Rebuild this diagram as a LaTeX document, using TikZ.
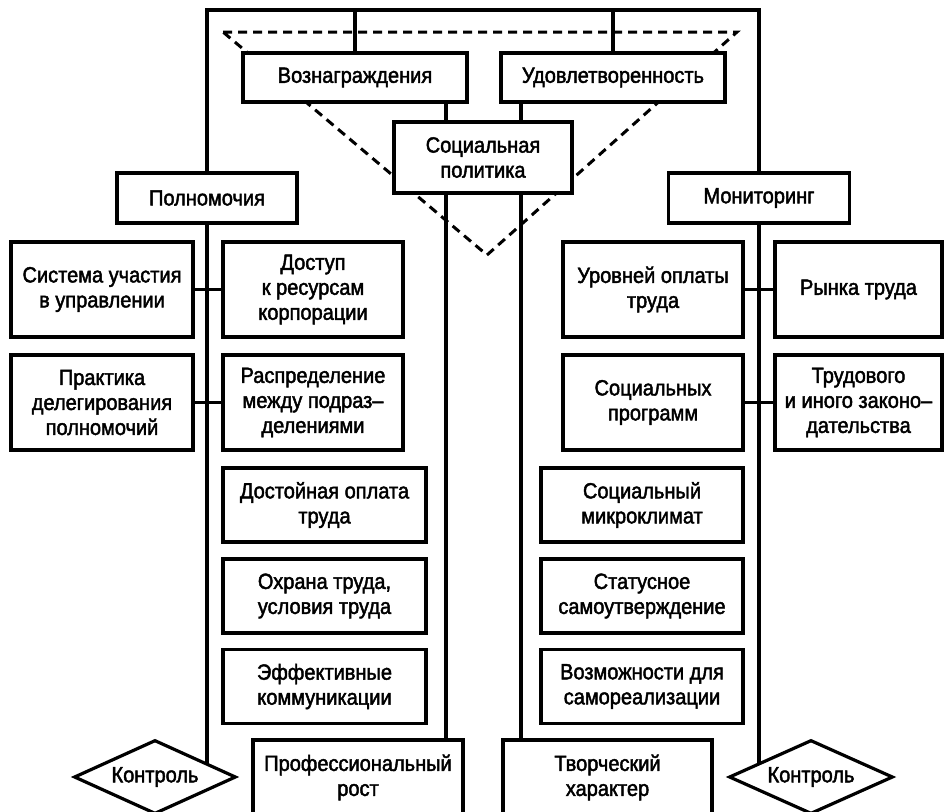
\documentclass[tikz,border=0pt]{standalone}
\usepackage{fontspec}
\setmainfont{Liberation Sans}[FakeStretch=0.91, FakeBold=2]
\usepackage{tikz}
\usetikzlibrary{backgrounds}
\usetikzlibrary{shapes.geometric}

\begin{document}
\begin{tikzpicture}[x=1pt, y=-1pt,
    box/.style={draw, line width=3.2pt, fill=white, align=center, inner sep=0pt,
        font=\fontsize{22}{25}\selectfont},
    ctrl/.style={box, diamond, aspect=2.2},
    link/.style={line width=3.2pt},
    tri/.style={line width=3pt, dash pattern=on 9pt off 6pt}]
    % Page the size of the reference (y runs downwards, 1pt = 1px)
    \useasboundingbox (0, 0) rectangle (944, 811);

    % Top: rewards, satisfaction and social policy
    \node[box, minimum width=224, minimum height=49] (reward) at (355, 77.5) {Вознаграждения};
    \node[box, minimum width=224, minimum height=49] (satisf) at (613, 77.5) {Удовлетворенность};
    \node[box, minimum width=178, minimum height=71] (policy) at (483, 157.5) {Социальная\\политика};

    % Left branch
    \node[box, minimum width=180, minimum height=50] (powers) at (207, 198) {Полномочия};
    \node[box, minimum width=182, minimum height=95] (partic) at (102, 289.5) {Система участия\\в управлении};
    \node[box, minimum width=180, minimum height=95] (access) at (313, 289.5) {Доступ\\к ресурсам\\корпорации};
    \node[box, minimum width=182, minimum height=95] (deleg) at (102, 402.5) {Практика\\делегирования\\полномочий};
    \node[box, minimum width=180, minimum height=95] (distrib) at (313, 402.5) {Распределение\\между подраз–\\делениями};
    \node[box, minimum width=203, minimum height=74] (fairpay) at (324.5, 505) {Достойная оплата\\труда};
    \node[box, minimum width=203, minimum height=74] (safety) at (324.5, 596) {Охрана труда,\\условия труда};
    \node[box, minimum width=203, minimum height=74] (comm) at (324.5, 686.5) {Эффективные\\коммуникации};
    \node[box, minimum width=210, minimum height=75] (growth) at (358, 777.5) {Профессиональный\\рост};
    \node[ctrl, minimum width=162, minimum height=74] (ctrlL) at (155, 777) {Контроль};

    % Right branch
    \node[box, minimum width=181, minimum height=50] (monitor) at (759, 198) {Мониторинг};
    \node[box, minimum width=180, minimum height=95] (wages) at (653, 289.5) {Уровней оплаты\\труда};
    \node[box, minimum width=167, minimum height=95] (market) at (858.5, 289.5) {Рынка труда};
    \node[box, minimum width=180, minimum height=95] (socprog) at (653, 402.5) {Социальных\\программ};
    \node[box, minimum width=167, minimum height=95] (labourlaw) at (858.5, 402.5) {Трудового\\и иного законо–\\дательства};
    \node[box, minimum width=202, minimum height=74] (climate) at (642, 505) {Социальный\\микроклимат};
    \node[box, minimum width=202, minimum height=74] (status) at (642, 596) {Статусное\\самоутверждение};
    \node[box, minimum width=202, minimum height=74] (selfreal) at (642, 686.5) {Возможности для\\самореализации};
    \node[box, minimum width=209, minimum height=75] (creative) at (607.5, 777.5) {Творческий\\характер};
    \node[ctrl, minimum width=164, minimum height=74] (ctrlR) at (811, 777) {Контроль};

    % Helper points for the frame, the two spines and the dashed triangle
    \coordinate (frameL) at (207, 10);
    \coordinate (frameR) at (759, 10);
    \coordinate (spineL) at (446, 0);
    \coordinate (spineR) at (521, 0);
    \coordinate (triA) at (223, 32);
    \coordinate (triB) at (737, 32);
    \coordinate (triC) at (487, 255);

    \begin{scope}[on background layer]
        % Dashed triangle behind the boxes
        \draw[tri] (triA) -- (triB) -- (triC) -- cycle;

        % Outer frame
        \draw[link] (powers.north) |- (frameR) -- (monitor.north);
        \draw[link] (reward.north) -- (reward.north |- frameL);
        \draw[link] (satisf.north) -- (satisf.north |- frameL);

        % Spines through the social policy box
        \draw[link] (reward.south -| spineL) -- (growth.north -| spineL);
        \draw[link] (satisf.south -| spineR) -- (creative.north -| spineR);

        % Side columns down to the control diamonds
        \draw[link] (powers) -- (powers |- ctrlL.center);
        \draw[link] (monitor) -- (monitor |- ctrlR.center);
        \draw[link] (partic) -- (access);
        \draw[link] (deleg) -- (distrib);
        \draw[link] (wages) -- (market);
        \draw[link] (socprog) -- (labourlaw);
    \end{scope}
\end{tikzpicture}
\end{document}
